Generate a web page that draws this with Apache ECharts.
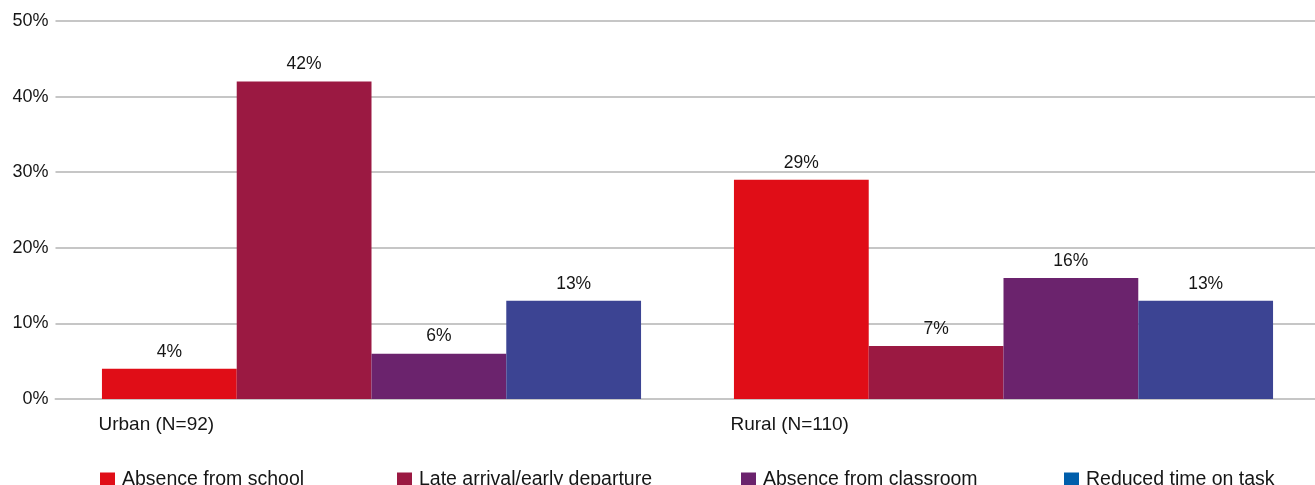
<!DOCTYPE html>
<html>
<head>
<meta charset="utf-8">
<script src="https://cdn.jsdelivr.net/npm/echarts@6/dist/echarts.min.js"></script>
<style>
  html, body { margin: 0; padding: 0; background: #fff; overflow: hidden; }
  #chart { width: 1320px; height: 485px; }
</style>
</head>
<body>
<div id="chart"></div>
<script>
var categories = ['Urban (N=92)', 'Rural (N=110)'];
var seriesNames = ['Absence from school', 'Late arrival/early departure', 'Absence from classroom', 'Reduced time on task'];
var absenceFromSchool = [4, 29];
var lateArrival = [42, 7];
var absenceFromClassroom = [6, 16];
var reducedTime = [13, 13];
var yTicks = [0, 10, 20, 30, 40, 50];

var barColors = ['#e00d17', '#9b1942', '#6b236d', '#3c4493'];
var legendColors = ['#e00d17', '#9b1942', '#6b236d', '#005eab'];
var legendLefts = [100, 397, 741, 1064];
var values = [absenceFromSchool, lateArrival, absenceFromClassroom, reducedTime];

var FONT = '"Liberation Sans", Arial, sans-serif';
var TXT = '#161616';

var chart = echarts.init(document.getElementById('chart'), null, { renderer: 'canvas' });

var legends = seriesNames.map(function (n, i) {
  return {
    left: legendLefts[i],
    top: 470,
    padding: 0,
    itemWidth: 15,
    itemHeight: 15,
    itemGap: 0,
    icon: 'rect',
    selectedMode: false,
    data: [{ name: n, itemStyle: { color: legendColors[i] } }],
    textStyle: { fontFamily: FONT, fontSize: 19.5, color: TXT, padding: [0, 0, 0, 2] }
  };
});

var series = seriesNames.map(function (n, i) {
  return {
    name: n,
    type: 'bar',
    data: values[i],
    barGap: '0%',
    barCategoryGap: '14.7%',
    itemStyle: { color: barColors[i] },
    label: {
      show: true,
      position: 'top',
      distance: 8,
      formatter: '{c}%',
      fontFamily: FONT,
      fontSize: 17.5,
      color: TXT
    },
    emphasis: { disabled: true }
  };
});

chart.setOption({
  animation: false,
  backgroundColor: '#ffffff',
  grid: { left: 55.5, right: 0.5, top: 21, bottom: 86, containLabel: false },
  legend: legends,
  xAxis: {
    type: 'category',
    data: categories,
    axisTick: { show: false },
    axisLine: { lineStyle: { color: '#c6c6c6', width: 2 } },
    axisLabel: {
      interval: 0,
      margin: 16,
      formatter: function (v) { return '{a|' + v + '}'; },
      rich: {
        a: { width: 546, align: 'left', fontFamily: FONT, fontSize: 19, color: TXT }
      }
    }
  },
  yAxis: {
    type: 'value',
    min: yTicks[0],
    max: yTicks[yTicks.length - 1],
    interval: yTicks[1] - yTicks[0],
    axisLine: { show: false },
    axisTick: { show: false },
    splitLine: { lineStyle: { color: '#c6c6c6', width: 2 } },
    axisLabel: {
      margin: 7,
      formatter: '{value}%',
      fontFamily: FONT,
      fontSize: 18,
      color: TXT
    }
  },
  series: series
});
</script>
</body>
</html>
